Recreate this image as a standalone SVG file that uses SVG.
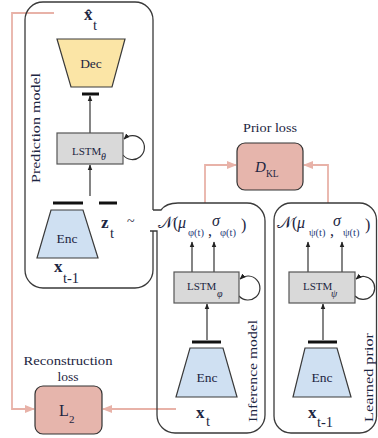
<svg xmlns="http://www.w3.org/2000/svg" width="378" height="438" viewBox="0 0 378 438">
  <defs>
    <style>
      .frame { fill: none; stroke: #3a3a3a; stroke-width: 1.3; }
      .lstm { fill: #d9d9d9; stroke: #555; stroke-width: 1.2; }
      .enc { fill: #cfe0f2; stroke: #3a3a3a; stroke-width: 1.2; }
      .dec { fill: #fbe5a6; stroke: #3a3a3a; stroke-width: 1.2; }
      .loss { fill: #e6b5ac; stroke: #333; stroke-width: 1.2; }
      .bar { stroke: #111; stroke-width: 3; }
      .arr { fill: none; stroke: #333; stroke-width: 1.2; marker-end: url(#ah); }
      .loop { fill: none; stroke: #333; stroke-width: 1.2; marker-end: url(#ah); }
      .pinka { fill: none; stroke: #e8b2a8; stroke-width: 1.8; marker-end: url(#ph); }
      text { font-family: "Liberation Serif", "DejaVu Serif", serif; fill: #1c2541; }
      .lbl { font-size: 13.5px; }
      .box { font-size: 13.5px; text-anchor: middle; }
      .ls { font-size: 11px; }
      .bx { font-size: 17px; font-weight: bold; }
      .sub { font-size: 14.5px; }
      .nt { font-size: 16px; }
      .ns { font-size: 10.5px; fill: #27407a; }
    </style>
    <marker id="ah" viewBox="0 0 10 10" refX="9" refY="5" markerWidth="6" markerHeight="6" markerUnits="userSpaceOnUse" orient="auto">
      <path d="M0,1 L10,5 L0,9 z" fill="#222"/>
    </marker>
    <marker id="ph" viewBox="0 0 10 10" refX="9" refY="5" markerWidth="10" markerHeight="10" markerUnits="userSpaceOnUse" orient="auto">
      <path d="M0,1 L10,5 L0,9 z" fill="#e8b2a8"/>
    </marker>
  </defs>

  <!-- connectors -->
  <g id="connectors">
    <!-- reconstruction loss feeds -->
    <path class="pinka" d="M54,13 H12 V409 H34"/>
    <path class="pinka" d="M176,409 H103"/>
    <!-- prior loss feeds -->
    <path class="pinka" d="M205,203 V165 H236"/>
    <path class="pinka" d="M328,203 V165 H304"/>
    <!-- prediction model internals -->
    <line class="arr" x1="90" y1="133" x2="90" y2="96"/>
    <line class="arr" x1="90" y1="196" x2="90" y2="165"/>
    <path class="loop" d="M123,155 A12,12 0 1 0 124,139"/>
    <!-- inference model internals -->
    <line class="arr" x1="207" y1="340" x2="207" y2="304"/>
    <line class="arr" x1="192" y1="272" x2="192" y2="242"/>
    <line class="arr" x1="214" y1="272" x2="214" y2="242"/>
    <path class="loop" d="M239,296 A12,12 0 1 0 240,279"/>
    <!-- learned prior internals -->
    <line class="arr" x1="323" y1="340" x2="323" y2="304"/>
    <line class="arr" x1="308" y1="272" x2="308" y2="242"/>
    <line class="arr" x1="342" y1="272" x2="342" y2="242"/>
    <path class="loop" d="M355,296 A11.5,11.5 0 1 0 356,279"/>
  </g>

  <!-- prediction model -->
  <g id="prediction-model">
    <path class="frame" d="M153,210 V20 A18,18 0 0 0 135,2 H43 A18,18 0 0 0 25,20 V270 A18,18 0 0 0 43,288 H135 A18,18 0 0 0 153,270 V231"/>
    <text class="lbl" transform="translate(40,183) rotate(-90)" textLength="110" lengthAdjust="spacingAndGlyphs">Prediction model</text>
    <text class="bx" x="84" y="20">x̂</text>
    <text class="sub" x="93" y="30">t</text>
    <polygon class="dec" points="57,39 125,39 112,87 71,87"/>
    <text class="box" x="91" y="68">Dec</text>
    <line class="bar" x1="82" y1="94" x2="99" y2="94"/>
    <rect class="lstm" x="57" y="133" width="66" height="31"/>
    <text class="ls" x="72" y="155">LSTM</text>
    <text x="101" y="160" style="font-size:10px;font-style:italic">θ</text>
    <line class="bar" x1="53" y1="203" x2="83" y2="203"/>
    <line class="bar" x1="99" y1="203" x2="117" y2="203"/>
    <polygon class="enc" points="51,210 83,210 98,258 37,258"/>
    <text class="box" x="67" y="243">Enc</text>
    <text class="bx" x="101" y="228">z</text>
    <text class="sub" x="110" y="238">t</text>
    <text x="127" y="226" style="font-size:14px">~</text>
    <text class="bx" x="54" y="272">x</text>
    <text class="sub" x="63" y="283">t-1</text>
  </g>

  <!-- inference model -->
  <g id="inference-model">
    <path class="frame" d="M150,231 H157 V415 A18,18 0 0 0 175,433 H247 A18,18 0 0 0 265,415 V221 A18,18 0 0 0 247,203 H178 Q166,203 161,210 H153"/>
    <text x="158" y="228" class="nt">𝒩(</text>
    <text x="178" y="228" class="nt" style="font-style:italic">μ</text>
    <text x="188" y="236" class="ns">φ(t)</text>
    <text x="208" y="236" class="nt">,</text>
    <text x="212" y="226" class="nt" style="font-style:italic">σ</text>
    <text x="220" y="236" class="ns">φ(t)</text>
    <text x="241" y="230" class="nt">)</text>
    <rect class="lstm" x="174" y="272" width="65" height="31"/>
    <text class="ls" x="187" y="290">LSTM</text>
    <text x="217" y="297" style="font-size:10px;font-style:italic">φ</text>
    <line class="bar" x1="192" y1="342" x2="221" y2="342"/>
    <polygon class="enc" points="190,348 223,348 237,397 176,397"/>
    <text class="box" x="207" y="382">Enc</text>
    <text class="bx" x="196" y="418">x</text>
    <text class="sub" x="206" y="426">t</text>
    <text class="lbl" transform="translate(257,422) rotate(-90)" textLength="102" lengthAdjust="spacingAndGlyphs">Inference model</text>
  </g>

  <!-- learned prior -->
  <g id="learned-prior">
    <rect class="frame" x="274" y="203" width="102.5" height="230" rx="17" ry="17"/>
    <text x="277" y="228" class="nt">𝒩(</text>
    <text x="297" y="228" class="nt" style="font-style:italic">μ</text>
    <text x="309" y="236" class="ns">ψ(t)</text>
    <text x="330" y="236" class="nt">,</text>
    <text x="333" y="226" class="nt" style="font-style:italic">σ</text>
    <text x="343" y="236" class="ns">ψ(t)</text>
    <text x="365" y="230" class="nt">)</text>
    <rect class="lstm" x="289" y="272" width="66" height="31"/>
    <text class="ls" x="303" y="290">LSTM</text>
    <text x="331" y="297" style="font-size:10px;font-style:italic">ψ</text>
    <line class="bar" x1="308" y1="342" x2="337" y2="342"/>
    <polygon class="enc" points="305,348 337,348 351,397 293,397"/>
    <text class="box" x="322" y="382">Enc</text>
    <text class="bx" x="308" y="418">x</text>
    <text class="sub" x="317" y="427">t-1</text>
    <text class="lbl" transform="translate(373,422) rotate(-90)" textLength="89" lengthAdjust="spacingAndGlyphs">Learned prior</text>
  </g>

  <!-- prior loss -->
  <g id="prior-loss">
    <text class="lbl" x="270" y="132" text-anchor="middle" textLength="54" lengthAdjust="spacingAndGlyphs">Prior loss</text>
    <rect class="loss" x="237" y="143" width="66" height="47" rx="8" ry="8"/>
    <text x="255" y="172" style="font-size:15px;font-style:italic">D</text>
    <text x="266" y="177" style="font-size:9.5px">KL</text>
  </g>

  <!-- reconstruction loss -->
  <g id="reconstruction-loss">
    <text class="lbl" x="68" y="365" text-anchor="middle" textLength="89" lengthAdjust="spacingAndGlyphs">Reconstruction</text>
    <text class="lbl" x="68" y="381" text-anchor="middle">loss</text>
    <rect class="loss" x="35" y="386" width="67" height="48" rx="8" ry="8"/>
    <text x="59" y="416" style="font-size:16px">L</text>
    <text x="69" y="423" style="font-size:11px">2</text>
  </g>
</svg>
